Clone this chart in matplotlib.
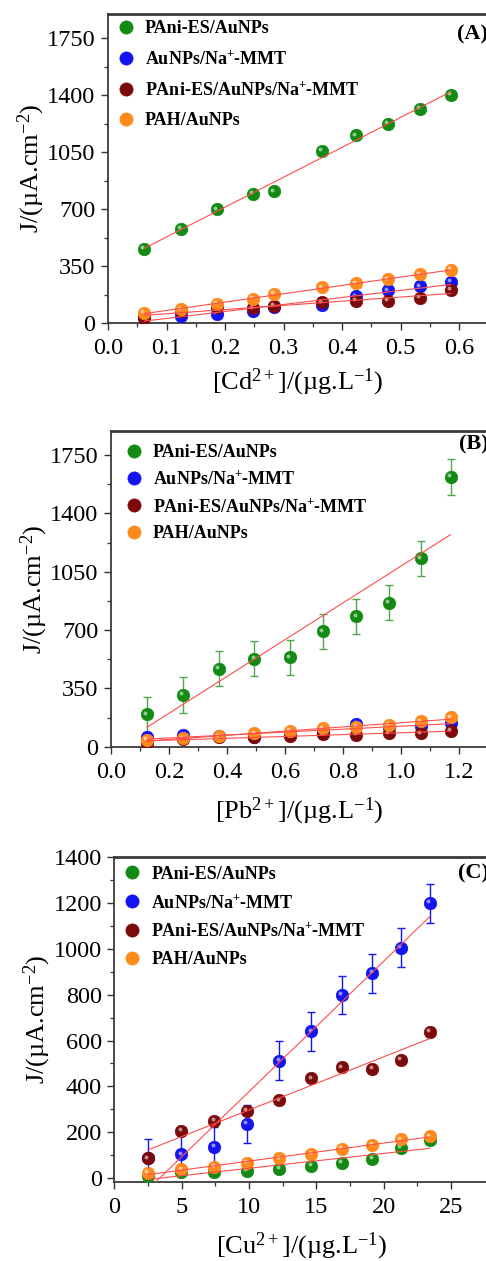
import numpy as np
import matplotlib.pyplot as plt
from matplotlib.transforms import offset_copy

plt.rcParams['font.family'] = ['Liberation Serif', 'DejaVu Serif']
plt.rcParams['mathtext.fontset'] = 'custom'
plt.rcParams['mathtext.rm'] = 'Liberation Serif'
plt.rcParams['mathtext.it'] = 'Liberation Serif:italic'
plt.rcParams['mathtext.bf'] = 'Liberation Serif:bold'

# -----------------------------
# Data
# -----------------------------
labels = ["PAni-ES/AuNPs", r"AuNPs/Na$^{\mathbf{+}}$-MMT",
          r"PAni-ES/AuNPs/Na$^{\mathbf{+}}$-MMT", "PAH/AuNPs"]
colors = ["#138a13", "#1414f0", "#7c0a0a", "#ff8a1c"]

# (A) Cd2+
cd_x = [0.062, 0.125, 0.186, 0.248, 0.283, 0.365, 0.424, 0.478, 0.533, 0.586]
cd_pani = [454, 581, 698, 796, 809, 1056, 1154, 1226, 1318, 1404]
cd_au_mmt = [45, 40, 57, 74, 96, 112, 164, 200, 225, 252]
cd_pani_mmt = [29, 75, 100, 90, 104, 127, 137, 137, 155, 203]
cd_pah = [63, 84, 115, 149, 180, 219, 243, 268, 299, 325]

# (B) Pb2+
pb_x = [0.124, 0.249, 0.372, 0.494, 0.616, 0.730, 0.845, 0.958, 1.067, 1.170]
pb_pani = [194, 310, 468, 528, 536, 692, 782, 864, 1130, 1618]
pb_pani_err = [104, 106, 106, 106, 107, 105, 106, 104, 106, 106]
pb_au_mmt = [56, 68, 65, 60, 70, 90, 138, 116, 126, 144]
pb_pani_mmt = [24, 44, 57, 60, 62, 74, 73, 80, 80, 96]
pb_pah = [40, 50, 62, 80, 94, 110, 120, 132, 152, 176]

# (C) Cu2+
cu_x = [2.48, 4.98, 7.43, 9.86, 12.26, 14.64, 16.89, 19.17, 21.32, 23.43]
cu_pani = [10, 28, 25, 32, 41, 54, 67, 83, 130, 166]
cu_au_mmt = [86, 103, 137, 236, 511, 640, 800, 894, 1006, 1200]
cu_au_mmt_err = [86, 85, 85, 84, 85, 85, 84, 85, 84, 85]
cu_pani_mmt = [86, 207, 249, 293, 339, 435, 483, 475, 515, 639]
cu_pah = [23, 38, 49, 67, 86, 106, 127, 146, 169, 182]

panels = [
    dict(x=cd_x, ys=[cd_pani, cd_au_mmt, cd_pani_mmt, cd_pah], errs=[None] * 4,
         xlim=(0, 0.65), ylim=(0, 1900), xticks=np.arange(0, 0.61, 0.1),
         yticks=np.arange(0, 1751, 350), xfmt="{:.1f}",
         xlabel=r"[Cd$^{2+}$]/(µg.L$^{-1}$)", xlpad=5, tag="(A)", tag_y=0.935,
         leg=(9 / 380.3, 1 - 6 / 309), lsp=0.72,
         rect=[108 / 486, 1 - 323 / 1261, 380.3 / 486, 309 / 1261]),
    dict(x=pb_x, ys=[pb_pani, pb_au_mmt, pb_pani_mmt, pb_pah],
         errs=[pb_pani_err, None, None, None],
         xlim=(0, 1.3), ylim=(0, 1895), xticks=np.arange(0, 1.21, 0.2),
         yticks=np.arange(0, 1751, 350), xfmt="{:.1f}",
         xlabel=r"[Pb$^{2+}$]/(µg.L$^{-1}$)", xlpad=9, tag="(B)", tag_y=0.956,
         leg=(14 / 377.4, 1 - 13 / 315.7), lsp=0.52,
         rect=[111 / 486, 1 - 746.7 / 1261, 377.4 / 486, 315.7 / 1261]),
    dict(x=cu_x, ys=[cu_pani, cu_au_mmt, cu_pani_mmt, cu_pah],
         errs=[None, cu_au_mmt_err, None, None],
         xlim=(0, 27.8), ylim=(-16, 1400), xticks=np.arange(0, 26, 5),
         yticks=np.arange(0, 1401, 200), xfmt="{:.0f}",
         xlabel=r"[Cu$^{2+}$]/(µg.L$^{-1}$)", xlpad=9, tag="(C)", tag_y=0.951,
         leg=(9 / 374.2, 1 - 8.5 / 324.4), lsp=0.6,
         rect=[114.3 / 486, 1 - 1181.7 / 1261, 374.2 / 486, 324.4 / 1261]),
]

err_colors = ["#4fa84f", "#1414f0", "#7c0a0a", "#ff8a1c"]

fig = plt.figure(figsize=(4.86, 12.61), dpi=100)

for p in panels:
    ax = fig.add_axes(p["rect"])
    x = np.array(p["x"])
    hl = offset_copy(ax.transData, fig=fig, x=-1.3, y=1.3, units="points")

    for y, err, c, ec, lab in zip(p["ys"], p["errs"], colors, err_colors, labels):
        y = np.array(y)
        if err is not None:
            ax.errorbar(x, y, yerr=err, fmt="none", ecolor=ec, elinewidth=1.0,
                        capsize=3, capthick=1.0, zorder=2)
        ax.plot(x, y, "o", ms=9, mfc=c, mec=c, mew=0.5, label=lab, zorder=3)
        # small highlight to suggest the shaded balls
        ax.plot(x, y, "o", ms=2.8, mfc="white", mec="none", alpha=0.55,
                transform=hl, zorder=3)

    # linear fits drawn on top
    for y in p["ys"]:
        k, b = np.polyfit(x, y, 1)
        ax.plot([x[0], x[-1]], [k * x[0] + b, k * x[-1] + b], color="#ff4d4d",
                lw=0.8, zorder=4)

    ax.set_xlim(p["xlim"])
    ax.set_ylim(p["ylim"])
    ax.set_xticks(p["xticks"])
    ax.set_xticklabels([p["xfmt"].format(v) for v in p["xticks"]])
    ax.set_yticks(p["yticks"])
    xt = p["xticks"]
    ax.set_xticks((xt[:-1] + xt[1:]) / 2, minor=True)
    yt = p["yticks"]
    ax.set_yticks((yt[:-1] + yt[1:]) / 2, minor=True)
    ax.tick_params(which="major", direction="out", length=5, width=1.0,
                   labelsize=17.5, color="#333333", pad=4)
    ax.tick_params(axis="x", which="major", pad=6)
    ax.tick_params(which="minor", direction="out", length=3, width=0.9,
                   color="#333333")
    for s in ax.spines.values():
        s.set_color("#3a3a3a")
        s.set_linewidth(1.3)
    ax.spines["top"].set_linewidth(2.0)

    ax.set_xlabel(p["xlabel"], fontsize=19, labelpad=p["xlpad"])
    ax.set_ylabel(r"J/(µA.cm$^{-2}$)", fontsize=19, labelpad=0)

    ax.text(1.0, p["tag_y"], p["tag"], transform=ax.transAxes, ha="right",
            va="center", fontsize=16, fontweight="bold")

    leg = ax.legend(loc="upper left", bbox_to_anchor=p["leg"], frameon=False,
                    prop=dict(size=13, weight="bold"), handletextpad=0.55,
                    labelspacing=p["lsp"], borderaxespad=0, borderpad=0,
                    handlelength=1.0)
    for h in leg.legend_handles:
        h.set_markersize(9.5)

fig.savefig("out.png", dpi=100)
